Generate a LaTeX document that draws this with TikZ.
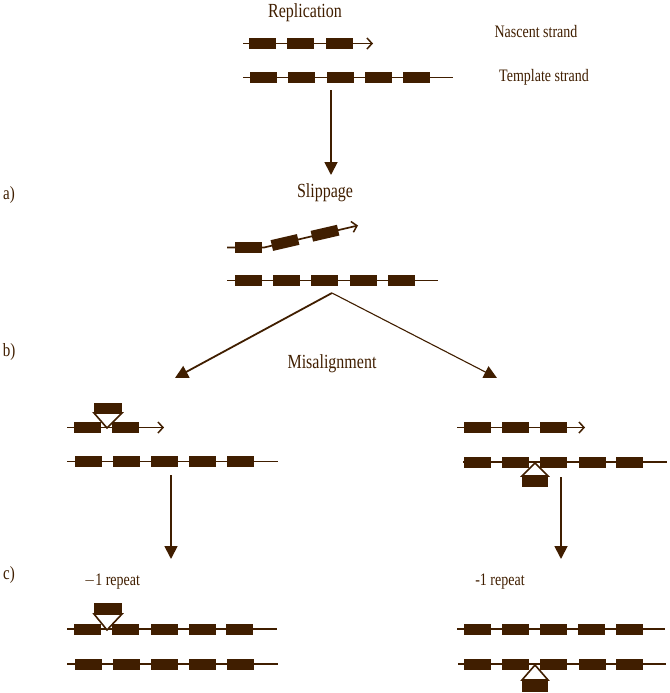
\documentclass[tikz,border=0pt]{standalone}
\usepackage{graphicx}
\usepackage{fontspec}
\setmainfont{Liberation Serif}
\usetikzlibrary{arrows.meta}
\definecolor{dnabrown}{RGB}{64,30,0}
\newcommand{\tall}[1]{\scalebox{1}[1.25]{#1}}

\tikzset{
  unit/.style={fill=dnabrown, minimum width=27pt, minimum height=11pt, inner sep=0pt},
  backbone/.style={draw=dnabrown, line width=1.7pt},
  growing/.style={backbone, -{Straight Barb[length=5pt,width=11pt,line width=1.5pt]}},
  loopout/.style={draw=dnabrown, fill=white, line width=1.6pt, line join=miter},
  flowarrow/.style={draw=dnabrown, line width=1.8pt, -{Triangle[width=13pt,length=13pt]}},
  stage/.style={text=dnabrown, font=\fontsize{16}{16}\selectfont},
  side/.style={text=dnabrown, font=\fontsize{14}{14}\selectfont},
  tag/.style={text=dnabrown, font=\fontsize{15}{15}\selectfont}
}

\begin{document}
\begin{tikzpicture}[x=1pt,y=-1pt]
  \useasboundingbox (0,0) rectangle (669,693);

  % replication
  \node[stage] (repl) at (305,13) {\tall{Replication}};
  \node[side] (nasc) at (536,32) {\tall{Nascent strand}};
  \node[side] (templ) at (544,77) {\tall{Template strand}};
  \draw[growing] (243,43.5) -- (373,43.5);
  \foreach \x [count=\i] in {262.5,300.5,339}
    \node[unit] (r1\i) at (\x,43.5) {};
  \draw[backbone] (243,77.5) -- (453,77.5);
  \foreach \x [count=\i] in {263.5,301.5,340,378.5,416.5}
    \node[unit] (r2\i) at (\x,77.5) {};
  \coordinate (a1s) at (331,90);
  \coordinate (a1e) at (331,175);
  \draw[flowarrow] (a1s) -- (a1e);

  % slippage
  \node[tag] (ta) at (9,195) {\tall{a)}};
  \node[stage] (slip) at (325,193) {\tall{Slippage}};
  \coordinate (k0) at (227,247.5);
  \coordinate (k1) at (264,247.5);
  \coordinate (k2) at (358,225.5);
  \draw[growing] (k0) -- (k1) -- (k2);
  \node[unit] (s11) at (248,247.5) {};
  \node[unit, rotate=13] (s12) at (285,242.5) {};
  \node[unit, rotate=13] (s13) at (325,233.2) {};
  \draw[backbone] (227,280.5) -- (438,280.5);
  \foreach \x [count=\i] in {248.5,286,324.5,363.5,401.5}
    \node[unit] (s2\i) at (\x,280.5) {};

  % misalignment
  \coordinate (fork) at (332,293);
  \coordinate (lefttip) at (175,378);
  \coordinate (righttip) at (497,378);
  \draw[flowarrow] (fork) -- (lefttip);
  \draw[flowarrow, line width=1.1pt] (fork) -- (righttip);
  \node[stage] (misal) at (332,364) {\tall{Misalignment}};
  \node[tag] (tb) at (9,352) {\tall{b)}};

  % left: loop in nascent strand
  \draw[growing] (67,427.5) -- (164,427.5);
  \foreach \x [count=\i] in {87.5,125.5}
    \node[unit] (l1\i) at (\x,427.5) {};
  \draw[loopout] (94,413) -- (107,428) -- (122,413) -- cycle;
  \node[unit, minimum width=28pt] (lx1) at (108,408) {};
  \draw[backbone] (67,461.5) -- (278,461.5);
  \foreach \x [count=\i] in {88.5,126.5,164.5,202.5,240}
    \node[unit] (l2\i) at (\x,461.5) {};
  \coordinate (a2s) at (171,475);
  \coordinate (a2e) at (171,559);
  \draw[flowarrow] (a2s) -- (a2e);

  % right: loop in template strand
  \draw[growing] (457,427.5) -- (585,427.5);
  \foreach \x [count=\i] in {477,515,553}
    \node[unit] (q1\i) at (\x,427.5) {};
  \draw[backbone] (463,462) -- (667,462);
  \foreach \x [count=\i] in {477.5,515.5,553.5,592,629.5}
    \node[unit] (q2\i) at (\x,462) {};
  \draw[loopout] (522,476) -- (535,463) -- (548,476) -- cycle;
  \node[unit, minimum width=26pt] (qx1) at (535,481.5) {};
  \coordinate (a3s) at (561,477);
  \coordinate (a3e) at (561,559);
  \draw[flowarrow] (a3s) -- (a3e);

  % products
  \node[tag] (tc) at (9,575) {\tall{c)}};
  \node[side] (repl1) at (112,582) {\tall{$-$1 repeat}};
  \draw[backbone] (67,629) -- (277,629);
  \foreach \x [count=\i] in {87.5,125.5,164,202,239.5}
    \node[unit] (p1\i) at (\x,629) {};
  \draw[loopout] (94,614) -- (107,630) -- (122,614) -- cycle;
  \node[unit, minimum width=28pt] (px1) at (108,608.5) {};
  \draw[backbone] (67,664) -- (278,664);
  \foreach \x [count=\i] in {88.5,126,164.5,202.5,240}
    \node[unit] (p2\i) at (\x,664) {};

  \node[side] (repl2) at (500,582) {\tall{-1 repeat}};
  \draw[backbone] (457,629) -- (665,629);
  \foreach \x [count=\i] in {477,515,553.5,591.5,629.5}
    \node[unit] (m1\i) at (\x,629) {};
  \draw[backbone] (458,664) -- (666,664);
  \foreach \x [count=\i] in {477.5,515.5,553.5,592,629.5}
    \node[unit] (m2\i) at (\x,664) {};
  \draw[loopout] (522,680) -- (535,665) -- (548,680) -- cycle;
  \node[unit, minimum width=26pt] (mx1) at (535,686) {};
\end{tikzpicture}
\end{document}
